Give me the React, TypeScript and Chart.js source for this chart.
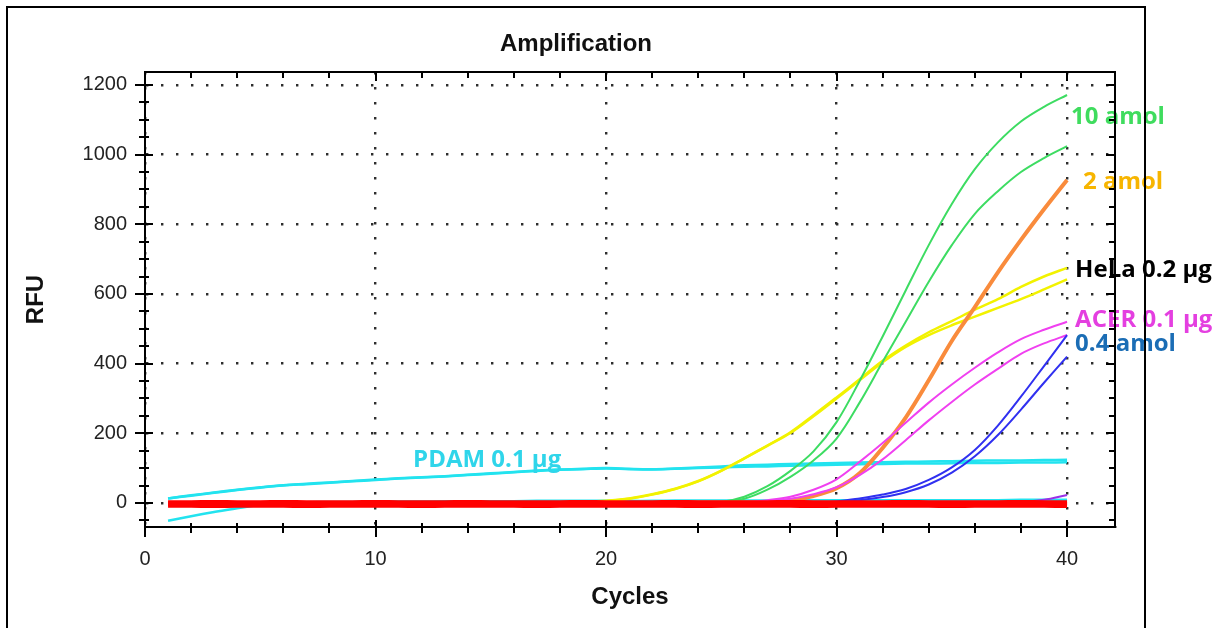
import React, { useEffect, useRef } from 'react';
import { Chart, registerables } from 'chart.js';

Chart.register(...registerables);

// ---------- data ----------
const cycles = [1, 2, 3, 4, 5, 6, 7, 8, 9, 10, 11, 12, 13, 14, 15, 16, 17, 18, 19, 20, 21, 22, 23, 24, 25, 26, 27, 28, 29, 30, 31, 32, 33, 34, 35, 36, 37, 38, 39, 40];

const redA = [2, 2, 3, 2, 2, 3, 2, 2, 2, 3, 2, 2, 2, 3, 2, 2, 2, 2, 3, 2, 2, 2, 3, 2, 2, 2, 2, 3, 2, 2, 2, 2, 3, 2, 2, 2, 2, 3, 2, 2];
const redB = [-8, -8, -9, -8, -8, -8, -9, -8, -8, -8, -8, -9, -8, -8, -8, -8, -9, -8, -8, -8, -8, -8, -8, -9, -8, -8, -8, -8, -9, -8, -8, -8, -8, -8, -9, -8, -8, -8, -8, -9];
const redC = [-3, -3, -2, -3, -3, -3, -2, -3, -3, -3, -3, -2, -3, -3, -3, -3, -2, -3, -3, -3, -3, -3, -2, -3, -3, -3, -3, -2, -3, -3, -3, -3, -3, -2, -3, -3, -3, -3, -2, -3];

const pdamA = [13, 22, 30, 38, 45, 51, 55, 59, 63, 67, 71, 74, 77, 81, 85, 89, 93, 96, 98, 100, 98, 97, 99, 102, 105, 108, 110, 112, 113, 115, 116, 117, 118, 119, 120, 121, 122, 122, 123, 124];
const pdamB = [13, 21, 29, 37, 44, 50, 54, 58, 62, 66, 70, 73, 76, 80, 84, 88, 92, 95, 97, 99, 97, 96, 98, 100, 102, 104, 105, 107, 108, 110, 111, 112, 113, 113, 114, 115, 115, 116, 116, 117];
const pdamC = [-51, -38, -26, -15, -6, 0, 2, 3, 3, 4, 4, 4, 5, 5, 5, 5, 6, 6, 6, 6, 6, 6, 7, 7, 7, 7, 7, 7, 8, 8, 8, 8, 8, 8, 8, 8, 8, 9, 9, 9];

const helaA = [0, 0, 1, 0, 1, 1, 0, 1, 1, 1, 1, 1, 1, 1, 1, 1, 2, 2, 2, 5, 12, 24, 40, 62, 92, 128, 165, 203, 252, 303, 355, 408, 452, 490, 522, 555, 585, 620, 650, 675];
const helaB = [0, 0, 0, 1, 1, 0, 1, 1, 1, 1, 1, 1, 1, 1, 1, 2, 2, 2, 3, 6, 13, 25, 41, 63, 93, 128, 164, 201, 249, 300, 352, 404, 448, 482, 510, 535, 560, 585, 613, 642];

const amol10A = [0, 0, 0, 0, 0, 0, 0, 0, 0, 0, 0, 0, 0, 0, 0, 0, 1, 1, 1, 1, 1, 1, 2, 2, 3, 18, 48, 92, 148, 232, 350, 478, 610, 740, 858, 958, 1035, 1095, 1137, 1171];
const amol10B = [0, 0, 0, 0, 0, 0, 0, 0, 0, 0, 0, 0, 0, 0, 0, 0, 0, 1, 1, 1, 1, 1, 2, 2, 2, 12, 38, 75, 122, 185, 288, 405, 520, 635, 740, 830, 895, 950, 990, 1024];

const amol2 = [0, 0, 0, 0, 0, 0, 0, 0, 0, 0, 0, 0, 0, 0, 0, 0, 0, 0, 0, 0, 0, 0, 0, 1, 1, 1, 2, 8, 20, 42, 85, 158, 245, 352, 465, 562, 662, 755, 843, 927];

const acerA = [0, 0, 0, 0, 0, 0, 0, 0, 0, 0, 0, 0, 0, 0, 0, 0, 0, 0, 0, 0, 0, 0, 0, 1, 1, 2, 8, 18, 38, 68, 118, 172, 230, 288, 340, 388, 432, 470, 497, 520];
const acerB = [0, 0, 0, 0, 0, 0, 0, 0, 0, 0, 0, 0, 0, 0, 0, 0, 0, 0, 0, 0, 0, 0, 0, 0, 1, 1, 5, 12, 25, 45, 80, 125, 180, 237, 290, 340, 385, 428, 458, 482];

const amol04A = [0, 0, 0, 0, 0, 0, 0, 0, 0, 0, 0, 0, 0, 0, 0, 0, 0, 0, 0, 0, 0, 0, 0, 0, 0, 0, 0, 0, 1, 4, 13, 24, 40, 66, 102, 152, 222, 305, 393, 482];
const amol04B = [0, 0, 0, 0, 0, 0, 0, 0, 0, 0, 0, 0, 0, 0, 0, 0, 0, 0, 0, 0, 0, 0, 0, 0, 0, 0, 0, 0, 0, 2, 8, 17, 31, 53, 87, 134, 195, 268, 345, 420];
const lateWell = [0, 0, 0, 0, 0, 0, 0, 0, 0, 0, 0, 0, 0, 0, 0, 0, 0, 0, 0, 0, 0, 0, 0, 0, 0, 0, 0, 0, 0, 0, 0, 0, 0, 0, 0, 0, 0, 3, 9, 23];

const xTickValues = [0, 10, 20, 30, 40];
const xMinorTickValues = [0, 2, 4, 6, 8, 10, 12, 14, 16, 18, 20, 22, 24, 26, 28, 30, 32, 34, 36, 38, 40];
const yTickValues = [0, 200, 400, 600, 800, 1000, 1200];
const yMinorTickValues = [-50, 0, 50, 100, 150, 200, 250, 300, 350, 400, 450, 500, 550, 600, 650, 700, 750, 800, 850, 900, 950, 1000, 1050, 1100, 1150, 1200];

const curveLabels = ['10 amol', '2 amol', 'HeLa 0.2 µg', 'ACER 0.1 µg', '0.4 amol', 'PDAM 0.1 µg'];
const curveLabelCycle = [40.17, 40.69, 40.35, 40.35, 40.35, 11.63];
const curveLabelRfu = [1107, 921, 668, 525, 456, 123];

// ---------- styles ----------
const curveLabelColors = ['#3fdc5e', '#f7b500', '#000000', '#e43fe0', '#1b6db5', '#2fd5ea'];
const SANS = '"Liberation Sans", Arial, sans-serif';
const LABEL_FONT = 'bold 24px "Open Sans", Lato, sans-serif';

type Series = { values: number[]; color: string; width: number };
const seriesList: Series[] = [
  { values: redA, color: '#ff0000', width: 4 },
  { values: redB, color: '#ff0000', width: 4 },
  { values: redC, color: '#ff0000', width: 4 },
  { values: lateWell, color: '#9a30e8', width: 2 },
  { values: amol04A, color: '#3030f0', width: 2 },
  { values: amol04B, color: '#3030f0', width: 2 },
  { values: acerA, color: '#f040f0', width: 2 },
  { values: acerB, color: '#f040f0', width: 2 },
  { values: amol2, color: '#f98b3c', width: 4 },
  { values: amol10A, color: '#3ddc62', width: 2 },
  { values: amol10B, color: '#3ddc62', width: 2 },
  { values: helaA, color: '#f2f200', width: 2.5 },
  { values: helaB, color: '#f2f200', width: 2.5 },
  { values: pdamA, color: '#22e3ef', width: 2.5 },
  { values: pdamB, color: '#22e3ef', width: 2.5 },
  { values: pdamC, color: '#22e3ef', width: 2.5 },
];

const decorPlugin = {
  id: 'decor',
  afterDatasetsDraw(chart: any) {
    const { ctx } = chart;
    const x = chart.scales.x;
    const y = chart.scales.y;
    ctx.save();
    ctx.font = LABEL_FONT;
    ctx.textBaseline = 'middle';
    ctx.textAlign = 'left';
    curveLabels.forEach((t, i) => {
      ctx.fillStyle = curveLabelColors[i];
      ctx.fillText(t, x.getPixelForValue(curveLabelCycle[i]), y.getPixelForValue(curveLabelRfu[i]));
    });
    ctx.restore();
  },
  afterDraw(chart: any) {
    const { ctx, chartArea } = chart;
    const { left, right, top, bottom } = chartArea;
    const x = chart.scales.x;
    const y = chart.scales.y;
    ctx.save();
    ctx.strokeStyle = '#000';
    ctx.lineWidth = 2;
    ctx.strokeRect(left, top, right - left, bottom - top);
    ctx.beginPath();
    xMinorTickValues.forEach((v) => {
      const px = Math.round(x.getPixelForValue(v));
      const major = xTickValues.includes(v);
      ctx.moveTo(px, bottom - (major ? 7 : 4));
      ctx.lineTo(px, bottom + (major ? 10 : 6));
      ctx.moveTo(px, top);
      ctx.lineTo(px, top + (major ? 9 : 6));
    });
    yMinorTickValues.forEach((v) => {
      const py = Math.round(y.getPixelForValue(v));
      const major = yTickValues.includes(v);
      ctx.moveTo(left - (major ? 10 : 6), py);
      ctx.lineTo(left + (major ? 8 : 4), py);
      ctx.moveTo(right - (major ? 9 : 6), py);
      ctx.lineTo(right, py);
    });
    ctx.stroke();
    // title
    ctx.fillStyle = '#111';
    ctx.font = `bold 24px ${SANS}`;
    ctx.textAlign = 'center';
    ctx.textBaseline = 'middle';
    ctx.fillText('Amplification', 576, 44);
    // outer frame
    ctx.lineWidth = 2;
    ctx.beginPath();
    ctx.moveTo(7, 628);
    ctx.lineTo(7, 7);
    ctx.lineTo(1145, 7);
    ctx.lineTo(1145, 628);
    ctx.stroke();
    ctx.restore();
  },
};

export default function App() {
  const ref = useRef<HTMLCanvasElement>(null);
  useEffect(() => {
    const canvas = ref.current;
    if (!canvas) return;
    const chart = new Chart(canvas, {
      type: 'line',
      data: {
        datasets: seriesList.map((s) => ({
          data: cycles.map((c, i) => ({ x: c, y: s.values[i] })),
          borderColor: s.color,
          backgroundColor: s.color,
          borderWidth: s.width,
          pointRadius: 0,
          fill: false,
          tension: 0.35,
        })),
      },
      options: {
        responsive: false,
        animation: false,
        devicePixelRatio: 1,
        layout: { padding: { left: 0, right: 108, top: 72, bottom: 0 } },
        plugins: {
          legend: { display: false },
          tooltip: { enabled: false },
          title: { display: false },
        },
        scales: {
          x: {
            type: 'linear',
            min: 0,
            max: 42.08,
            afterBuildTicks: (s: any) => {
              s.ticks = xTickValues.map((v) => ({ value: v }));
            },
            afterFit: (s: any) => {
              s.height = 101;
            },
            grid: { color: '#2e2e2e', lineWidth: 2.4, drawTicks: false },
            border: { display: true, color: '#000', width: 2, dash: [2.4, 12.6] },
            ticks: {
              color: '#222',
              font: { family: SANS, size: 20 },
              padding: 20,
              maxRotation: 0,
              autoSkip: false,
              callback: (v: any) => String(v),
            },
            title: {
              display: true,
              text: 'Cycles',
              color: '#111',
              font: { family: SANS, size: 24, weight: 'bold' },
              padding: { top: 0, bottom: 16 },
            },
          },
          y: {
            type: 'linear',
            min: -69,
            max: 1237,
            afterBuildTicks: (s: any) => {
              s.ticks = yTickValues.map((v) => ({ value: v }));
            },
            afterFit: (s: any) => {
              s.width = 145;
            },
            grid: { color: '#2e2e2e', lineWidth: 2.4, drawTicks: false },
            border: { display: true, color: '#000', width: 2, dash: [2.4, 12.6] },
            ticks: {
              color: '#222',
              font: { family: SANS, size: 20 },
              padding: 18,
              autoSkip: false,
              callback: (v: any) => String(v),
            },
            title: {
              display: true,
              text: 'RFU',
              color: '#111',
              font: { family: SANS, size: 24, weight: 'bold' },
              padding: { top: 22, bottom: 0 },
            },
          },
        },
      },
      plugins: [decorPlugin],
    } as any);
    return () => chart.destroy();
  }, []);
  return (
    <div style={{ position: 'absolute', left: 0, top: 0, width: 1223, height: 628, background: '#fff' }}>
      <canvas ref={ref} width={1223} height={628} style={{ display: 'block', width: 1223, height: 628 }} />
    </div>
  );
}
